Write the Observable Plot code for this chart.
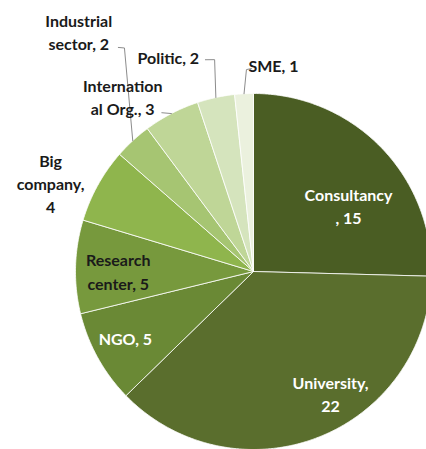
<!DOCTYPE html>
<html>
<head>
<meta charset="utf-8">
<script src="https://cdn.jsdelivr.net/npm/d3@7"></script>
<script src="https://cdn.jsdelivr.net/npm/@observablehq/plot@0.6"></script>
<style>
  html, body { margin: 0; padding: 0; background: #fff; }
  #chart svg { display: block; }
</style>
</head>
<body>
<div id="chart"></div>
<script>
// ---- data (clockwise from 12 o'clock) ----
const categories = ["Consultancy", "University", "NGO", "Research center", "Big company",
                    "Industrial sector", "International Org.", "Politic", "SME"];
const counts = [15, 22, 5, 5, 4, 2, 3, 2, 1];
const labelTexts = ["Consultancy\n, 15", "University,\n22", "NGO, 5", "Research\ncenter, 5",
                    "Big\ncompany,\n4", "Industrial\nsector, 2", "Internation\nal Org., 3",
                    "Politic, 2", "SME, 1"];

// ---- styles ----
const colors = ["#4a5d23", "#5a6e2d", "#6a8935", "#77993d", "#8fb54d",
                "#a6c572", "#bfd697", "#d5e4bd", "#ebf1de"];
const textColors = ["#ffffff", "#ffffff", "#ffffff", "#1a1a1a", "#1a1a1a",
                    "#1a1a1a", "#1a1a1a", "#1a1a1a", "#1a1a1a"];

// ---- layout (label placement in polar form: angle deg clockwise from top, radius fraction) ----
const W = 426, H = 449, CX = 253, CY = 271, R = 178;
const labelAngle = [55.2, 147.7, 242.7, 270.4, 293.7, 324.0, 323.3, 338.4, 5.5];
const labelRadius = [0.65, 0.81, 0.81, 0.76, 1.245, 1.67, 1.23, 1.30, 1.17];
// leader lines: [elbow, end] in polar form, starting at slice edge mid-angle
const leaders = {
  "Industrial sector": [[330.0, 1.45], [328.9, 1.47]],
  "International Org.": [[330.0, 1.03]],
  "Politic": [[349.6, 1.21], [347.2, 1.22]],
  "SME": [[358.0, 1.135], [359.4, 1.14]]
};

const total = d3.sum(counts);
const rad = (deg) => deg * Math.PI / 180;
const polar = (deg, r) => ({x: r * Math.sin(rad(deg)), y: r * Math.cos(rad(deg))});

// slice polygons
const slicePts = [];
let acc = 0;
const mids = [];
categories.forEach((name, i) => {
  const a0 = acc / total * 360, a1 = (acc + counts[i]) / total * 360;
  mids.push((a0 + a1) / 2);
  slicePts.push({name, x: 0, y: 0});
  const n = Math.max(2, Math.ceil(a1 - a0) * 2);
  for (let k = 0; k <= n; k++) {
    const p = polar(a0 + (a1 - a0) * k / n, 1);
    slicePts.push({name, ...p});
  }
  slicePts.push({name, x: 0, y: 0});
  acc += counts[i];
});

const labels = categories.map((name, i) => ({
  name, text: labelTexts[i], color: textColors[i], ...polar(labelAngle[i], labelRadius[i])
}));

const leaderPts = [];
categories.forEach((name, i) => {
  if (!leaders[name]) return;
  leaderPts.push({name, ...polar(mids[i], 1)});
  leaders[name].forEach(([a, r]) => leaderPts.push({name, ...polar(a, r)}));
});

const chart = Plot.plot({
  width: W,
  height: H,
  margin: 0,
  x: {domain: [-CX / R, (W - CX) / R], axis: null},
  y: {domain: [-(H - CY) / R, CY / R], axis: null},
  color: {type: "ordinal", domain: categories, range: colors},
  style: {fontFamily: "Lato, 'Open Sans', sans-serif", background: "#fff"},
  marks: [
    Plot.line(slicePts, {x: "x", y: "y", z: "name", fill: "name", stroke: "#ffffff",
                         strokeWidth: 0.8, strokeLinejoin: "round", curve: "linear"}),
    Plot.line(leaderPts, {x: "x", y: "y", z: "name", stroke: "#8c8c8c", strokeWidth: 1}),
    Plot.text(labels, {x: "x", y: "y", text: "text", fill: "color",
                       fontSize: 16, fontWeight: "bold", lineHeight: 1.45,
                       textAnchor: "middle"})
  ]
});
document.getElementById("chart").appendChild(chart);
</script>
</body>
</html>
